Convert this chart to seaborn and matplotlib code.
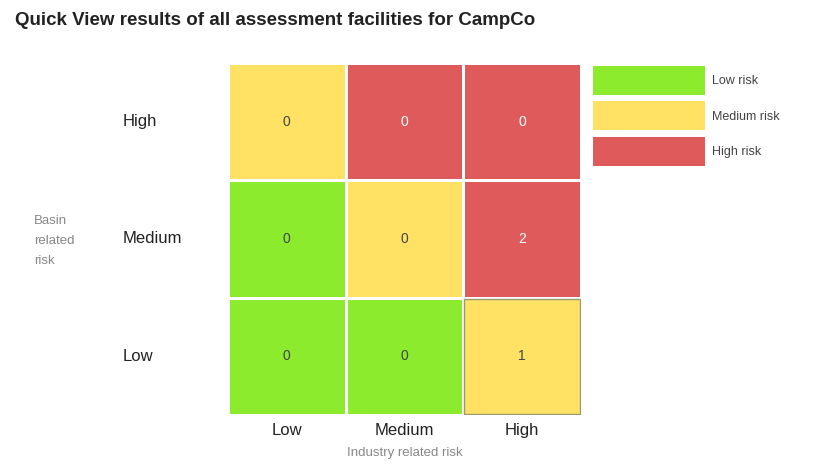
import numpy as np
import pandas as pd
import matplotlib
matplotlib.use("Agg")
from matplotlib import pyplot as plt
from matplotlib.colors import ListedColormap
from matplotlib.patches import Patch, Rectangle
import seaborn as sns

# ---- data ----
basin_levels = ["High", "Medium", "Low"]          # rows (top to bottom)
industry_levels = ["Low", "Medium", "High"]       # columns
counts = [[0, 0, 0],
          [0, 0, 2],
          [0, 0, 1]]
# risk class per cell: 0 = low, 1 = medium, 2 = high
risk_class = [[1, 2, 2],
              [0, 1, 2],
              [0, 0, 1]]
risk_names = ["Low risk", "Medium risk", "High risk"]
risk_colors = ["#8BEB2C", "#FFE263", "#DF5B5B"]
highlight_cell = ("Low", "High")   # basin, industry

sns.set_theme(style="white")
plt.rcParams["font.family"] = ["Liberation Sans", "DejaVu Sans"]

cls = pd.DataFrame(risk_class, index=basin_levels, columns=industry_levels)
cnt = pd.DataFrame(counts, index=basin_levels, columns=industry_levels)

fig = plt.figure(figsize=(8.22, 4.72), dpi=100)
ax = fig.add_axes([0.2774, 0.1208, 0.4294, 0.7458])

sns.heatmap(cls, ax=ax, cmap=ListedColormap(risk_colors), vmin=-0.5, vmax=2.5,
            annot=cnt, fmt="d", cbar=False, linewidths=2, linecolor="white",
            annot_kws={"fontsize": 10})

# annotation colour: white on red, dark elsewhere
for txt, c in zip(ax.texts, np.array(risk_class).ravel()):
    txt.set_color("white" if c == 2 else "#444444")

# highlighted (selected) cell outline
r = basin_levels.index(highlight_cell[0])
c = industry_levels.index(highlight_cell[1])
ax.add_patch(Rectangle((c + 0.008, r + 0.008), 0.984, 0.984, fill=False,
                       edgecolor="#9a9a70", linewidth=1.0))

ax.tick_params(axis="both", length=0)
ax.set_xticklabels(industry_levels, fontsize=12, color="#222222")
ax.set_yticklabels(basin_levels, fontsize=12, color="#222222", rotation=0,
                   ha="left")
ax.tick_params(axis="y", pad=76)
ax.tick_params(axis="x", pad=6)
ax.set_xlabel("Industry related risk", fontsize=9.5, color="#888888", labelpad=6)
ax.set_ylabel("")
fig.text(0.041, 0.49, "Basin\nrelated\nrisk", fontsize=9.5, color="#888888",
         ha="left", va="center", linespacing=1.9)

fig.text(0.018, 0.957, "Quick View results of all assessment facilities for CampCo",
         fontsize=13.5, fontweight="bold", color="#222222", ha="left", va="center")

handles = [Patch(facecolor=col, edgecolor="none") for col in risk_colors]
fig.legend(handles, risk_names, loc="upper left", bbox_to_anchor=(0.7214, 0.860),
           frameon=False, fontsize=9, handlelength=9.0, handleheight=3.2,
           handletextpad=0.5, labelspacing=0.5, borderaxespad=0,
           borderpad=0, labelcolor="#444444")

plt.savefig("out.png", dpi=100)
plt.close()
